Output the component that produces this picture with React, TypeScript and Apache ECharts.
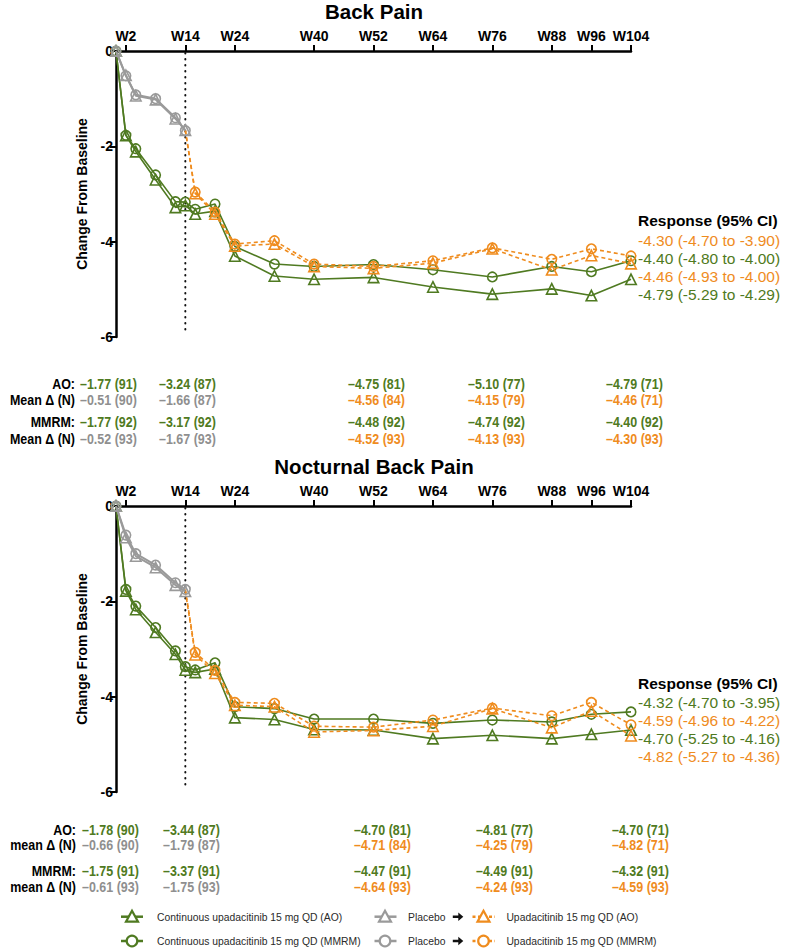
import { useEffect, useRef } from "react";
import * as echarts from "echarts";

const FONT = 'Arial, "Liberation Sans", Helvetica, sans-serif';
const GREEN = "#4f7a21";
const ORANGE = "#ef8c1e";
const GRAY = "#9a9a9a";
const GRAY_TEXT = "#8f8f8f";
const TEXT_DARK = "#2a2a2a";

// ---------- data ----------
const weeksUpa = [0, 2, 4, 8, 12, 14, 16, 20, 24, 32, 40, 52, 64, 76, 88, 96, 104];
const weeksPbo = [0, 2, 4, 8, 12, 14];
const weeksSwitch = [14, 16, 20, 24, 32, 40, 52, 64, 76, 88, 96, 104];
const tickWeeks = [2, 14, 24, 40, 52, 64, 76, 88, 96, 104];

// Back Pain
const bpUpaAO = [0, -1.77, -2.11, -2.7, -3.28, -3.24, -3.42, -3.36, -4.3, -4.72, -4.79, -4.75, -4.95, -5.1, -4.99, -5.13, -4.79];
const bpUpaMMRM = [0, -1.77, -2.05, -2.6, -3.16, -3.17, -3.32, -3.21, -4.1, -4.47, -4.52, -4.48, -4.59, -4.74, -4.52, -4.63, -4.4];
const bpPboAO = [0, -0.51, -0.94, -1.02, -1.42, -1.66];
const bpPboMMRM = [0, -0.52, -0.92, -1.0, -1.4, -1.67];
const bpSwAO = [-1.66, -2.99, -3.42, -4.09, -4.05, -4.52, -4.56, -4.45, -4.15, -4.59, -4.29, -4.46];
const bpSwMMRM = [-1.67, -2.96, -3.38, -4.05, -3.98, -4.47, -4.52, -4.4, -4.13, -4.37, -4.15, -4.3];

// Nocturnal Back Pain
const npUpaAO = [0, -1.78, -2.17, -2.65, -3.11, -3.44, -3.49, -3.42, -4.44, -4.48, -4.69, -4.7, -4.88, -4.81, -4.88, -4.79, -4.7];
const npUpaMMRM = [0, -1.75, -2.1, -2.55, -3.04, -3.37, -3.44, -3.29, -4.21, -4.25, -4.47, -4.47, -4.56, -4.49, -4.53, -4.37, -4.32];
const npPboAO = [0, -0.66, -1.05, -1.29, -1.66, -1.79];
const npPboMMRM = [0, -0.61, -1.0, -1.24, -1.61, -1.75];
const npSwAO = [-1.79, -3.12, -3.51, -4.18, -4.21, -4.74, -4.71, -4.62, -4.25, -4.65, -4.3, -4.82];
const npSwMMRM = [-1.75, -3.07, -3.45, -4.12, -4.14, -4.62, -4.64, -4.49, -4.24, -4.4, -4.12, -4.59];

// Response (95% CI) annotations: text and group ("pbo" = placebo->upa, "upa" = continuous)
const bpRespText = ["-4.30 (-4.70 to -3.90)", "-4.40 (-4.80 to -4.00)", "-4.46 (-4.93 to -4.00)", "-4.79 (-5.29 to -4.29)"];
const bpRespGroup = ["pbo", "upa", "pbo", "upa"];
const npRespText = ["-4.32 (-4.70 to -3.95)", "-4.59 (-4.96 to -4.22)", "-4.70 (-5.25 to -4.16)", "-4.82 (-5.27 to -4.36)"];
const npRespGroup = ["upa", "pbo", "upa", "pbo"];

// Tables
const bpTableLabels = ["AO:", "Mean Δ (N)", "MMRM:", "Mean Δ (N)"];
const bpAOUpa = ["–1.77 (91)", "–3.24 (87)", "–4.75 (81)", "–5.10 (77)", "–4.79 (71)"];
const bpAOPbo = ["–0.51 (90)", "–1.66 (87)", "–4.56 (84)", "–4.15 (79)", "–4.46 (71)"];
const bpMMRMUpa = ["–1.77 (92)", "–3.17 (92)", "–4.48 (92)", "–4.74 (92)", "–4.40 (92)"];
const bpMMRMPbo = ["–0.52 (93)", "–1.67 (93)", "–4.52 (93)", "–4.13 (93)", "–4.30 (93)"];

const npTableLabels = ["AO:", "mean Δ (N)", "MMRM:", "mean Δ (N)"];
const npAOUpa = ["–1.78 (90)", "–3.44 (87)", "–4.70 (81)", "–4.81 (77)", "–4.70 (71)"];
const npAOPbo = ["–0.66 (90)", "–1.79 (87)", "–4.71 (84)", "–4.25 (79)", "–4.82 (71)"];
const npMMRMUpa = ["–1.75 (91)", "–3.37 (91)", "–4.47 (91)", "–4.49 (91)", "–4.32 (91)"];
const npMMRMPbo = ["–0.61 (93)", "–1.75 (93)", "–4.64 (93)", "–4.24 (93)", "–4.59 (93)"];

const legendUpa = ["Continuous upadacitinib 15 mg QD (AO)", "Continuous upadacitinib 15 mg QD (MMRM)"];
const legendPbo = ["Placebo", "Placebo"];
const legendSw = ["Upadacitinib 15 mg QD (AO)", "Upadacitinib 15 mg QD (MMRM)"];

// ---------- layout ----------
const GRID_LEFT = 116;
const GRID_W = 515;
const GRID_H = 286;
const TABLE_FONT = 14.5;
const TABLE_SCALE = 0.86;
const LEGEND_FONT = 11.5;
const LEGEND_SCALE = 0.9;
const panels = [
  {
    title: "Back Pain", titleY: 11, top: 51,
    upaAO: bpUpaAO, upaMMRM: bpUpaMMRM, pboAO: bpPboAO, pboMMRM: bpPboMMRM, swAO: bpSwAO, swMMRM: bpSwMMRM,
    respText: bpRespText, respGroup: bpRespGroup, respY: 220.7,
    labels: bpTableLabels, rows: [bpAOUpa, bpAOPbo, bpMMRMUpa, bpMMRMPbo],
    rowY: [384, 400, 422.3, 439], labelX: 75, colX: [80, 159, 348, 468, 606],
  },
  {
    title: "Nocturnal Back Pain", titleY: 466, top: 506,
    upaAO: npUpaAO, upaMMRM: npUpaMMRM, pboAO: npPboAO, pboMMRM: npPboMMRM, swAO: npSwAO, swMMRM: npSwMMRM,
    respText: npRespText, respGroup: npRespGroup, respY: 683.3,
    labels: npTableLabels, rows: [npAOUpa, npAOPbo, npMMRMUpa, npMMRMPbo],
    rowY: [830, 845.5, 871, 886.7], labelX: 76, colX: [82, 163, 354, 476, 612],
  },
];

function lineSeries(gi: number, weeks: number[], vals: number[], color: string, symbol: string, dashed: boolean, width: number, skipFirst: boolean, z: number) {
  return {
    type: "line",
    xAxisIndex: gi,
    yAxisIndex: gi,
    data: weeks.map((w, i) => (skipFirst && i === 0 ? { value: [w, vals[i]], symbol: "none" } : [w, vals[i]])),
    symbol,
    symbolSize: symbol === "triangle" ? 10.5 : 9.5,
    showSymbol: true,
    clip: false,
    silent: true,
    z,
    lineStyle: { color, width, type: dashed ? [4, 3] : "solid" },
    itemStyle: { color: "rgba(255,255,255,0)", borderColor: color, borderWidth: 1.6 },
  };
}

function buildOption() {
  const grid: any[] = [];
  const xAxis: any[] = [];
  const yAxis: any[] = [];
  const series: any[] = [];
  const elements: any[] = [];

  panels.forEach((p, gi) => {
    grid.push({ left: GRID_LEFT, top: p.top, width: GRID_W, height: GRID_H, containLabel: false });
    xAxis.push({
      gridIndex: gi,
      type: "value",
      position: "top",
      min: 0,
      max: 104,
      axisLine: { show: true, onZero: false, lineStyle: { color: "#000", width: 2.5 } },
      axisTick: { show: true, length: 6, customValues: tickWeeks, lineStyle: { color: "#000", width: 2 } },
      axisLabel: {
        customValues: tickWeeks,
        formatter: (v: number) => "W" + v,
        fontFamily: FONT,
        fontWeight: "bold",
        fontSize: 14,
        color: "#000",
        margin: 8,
      },
      splitLine: { show: false },
    });
    yAxis.push({
      gridIndex: gi,
      type: "value",
      min: -6,
      max: 0,
      interval: 2,
      name: "Change From Baseline",
      nameLocation: "middle",
      nameRotate: 90,
      nameGap: 27,
      nameTextStyle: { fontFamily: FONT, fontWeight: "bold", fontSize: 14, color: "#000" },
      axisLine: { show: true, onZero: false, lineStyle: { color: "#000", width: 2.5 } },
      axisTick: { show: true, length: 6, lineStyle: { color: "#000", width: 2 } },
      axisLabel: { fontFamily: FONT, fontWeight: "bold", fontSize: 14, color: "#000", margin: 3 },
      splitLine: { show: false },
    });

    // dotted reference line at week 14
    series.push({
      type: "line",
      xAxisIndex: gi,
      yAxisIndex: gi,
      data: [[14, -0.04], [14, -5.93]],
      symbol: "none",
      silent: true,
      z: 1,
      lineStyle: { color: "#111", width: 2, type: [0.5, 5.5], cap: "round" },
    });
    series.push(lineSeries(gi, weeksUpa, p.upaMMRM, GREEN, "circle", false, 1.6, false, 2));
    series.push(lineSeries(gi, weeksUpa, p.upaAO, GREEN, "triangle", false, 1.6, false, 2));
    series.push(lineSeries(gi, weeksSwitch, p.swMMRM, ORANGE, "circle", true, 1.6, true, 3));
    series.push(lineSeries(gi, weeksSwitch, p.swAO, ORANGE, "triangle", true, 1.6, true, 3));
    series.push(lineSeries(gi, weeksPbo, p.pboMMRM, GRAY, "circle", false, 2, false, 4));
    series.push(lineSeries(gi, weeksPbo, p.pboAO, GRAY, "triangle", false, 2, false, 4));

    // title
    elements.push({
      type: "text", x: 374, y: p.titleY,
      style: { text: p.title, fill: "#000", fontFamily: FONT, fontWeight: "bold", fontSize: 20.5, align: "center", verticalAlign: "middle" },
    });

    // response annotation
    elements.push({
      type: "text", x: 638, y: p.respY,
      style: { text: "Response (95% CI)", fill: "#000", fontFamily: FONT, fontWeight: "bold", fontSize: 15.5, align: "left", verticalAlign: "middle" },
    });
    p.respText.forEach((t, k) => {
      elements.push({
        type: "text", x: 638, y: p.respY + 19.5 + k * 18,
        style: { text: t, fill: p.respGroup[k] === "upa" ? GREEN : ORANGE, fontFamily: FONT, fontSize: 15.5, align: "left", verticalAlign: "middle" },
      });
    });

    // table
    p.labels.forEach((lab, r) => {
      elements.push({
        type: "text", x: p.labelX, y: p.rowY[r], scaleX: TABLE_SCALE,
        style: { text: lab, fill: "#000", fontFamily: FONT, fontWeight: "bold", fontSize: TABLE_FONT, align: "right", verticalAlign: "middle" },
      });
      p.rows[r].forEach((val, c) => {
        const isUpa = r % 2 === 0;
        const color = isUpa ? GREEN : c < 2 ? GRAY_TEXT : ORANGE;
        elements.push({
          type: "text", x: p.colX[c], y: p.rowY[r], scaleX: TABLE_SCALE,
          style: { text: val, fill: color, fontFamily: FONT, fontWeight: "bold", fontSize: TABLE_FONT, align: "left", verticalAlign: "middle" },
        });
      });
    });
  });

  // legend (manual)
  const legendRows = [916.7, 941];
  const triangle = (cx: number, cy: number, color: string) => ({
    type: "polygon",
    shape: { points: [[cx, cy - 6], [cx + 6, cy + 5], [cx - 6, cy + 5]] },
    style: { fill: "#fff", stroke: color, lineWidth: 2.2 },
  });
  const circle = (cx: number, cy: number, color: string) => ({
    type: "circle",
    shape: { cx, cy, r: 5.3 },
    style: { fill: "#fff", stroke: color, lineWidth: 2.2 },
  });
  const legendText = (x: number, y: number, text: string) => ({
    type: "text", x, y, scaleX: LEGEND_SCALE,
    style: { text, fill: TEXT_DARK, fontFamily: FONT, fontSize: LEGEND_FONT, align: "left", verticalAlign: "middle" },
  });
  legendRows.forEach((y, r) => {
    const mark = r === 0 ? triangle : circle;
    // continuous upa
    elements.push({ type: "line", shape: { x1: 121, y1: y, x2: 143, y2: y }, style: { stroke: GREEN, lineWidth: 2.5 } });
    elements.push(mark(132, y, GREEN));
    elements.push(legendText(157, y, legendUpa[r]));
    // placebo
    elements.push({ type: "line", shape: { x1: 374.5, y1: y, x2: 396.5, y2: y }, style: { stroke: GRAY, lineWidth: 2.5 } });
    elements.push(mark(385, y, GRAY));
    elements.push(legendText(408, y, legendPbo[r]));
    // arrow
    const ax = 457.8;
    elements.push({
      type: "polygon",
      shape: { points: [[ax - 5, y - 1.3], [ax + 0.5, y - 1.3], [ax + 0.5, y - 4.2], [ax + 5.5, y], [ax + 0.5, y + 4.2], [ax + 0.5, y + 1.3], [ax - 5, y + 1.3]] },
      style: { fill: "#111" },
    });
    // switched
    elements.push({ type: "line", shape: { x1: 472.5, y1: y, x2: 495, y2: y }, style: { stroke: ORANGE, lineWidth: 2.5, lineDash: [3, 2.5] } });
    elements.push(mark(483.5, y, ORANGE));
    elements.push(legendText(506.4, y, legendSw[r]));
  });

  return {
    animation: false,
    backgroundColor: "#fff",
    textStyle: { fontFamily: FONT },
    grid,
    xAxis,
    yAxis,
    series,
    graphic: { elements },
  };
}

export default function App() {
  const ref = useRef<HTMLDivElement>(null);
  useEffect(() => {
    document.body.style.margin = "0";
    const chart = echarts.init(ref.current!, null, { renderer: "svg" });
    chart.setOption(buildOption() as any);
    return () => chart.dispose();
  }, []);
  return <div ref={ref} style={{ width: 786, height: 949 }} />;
}
